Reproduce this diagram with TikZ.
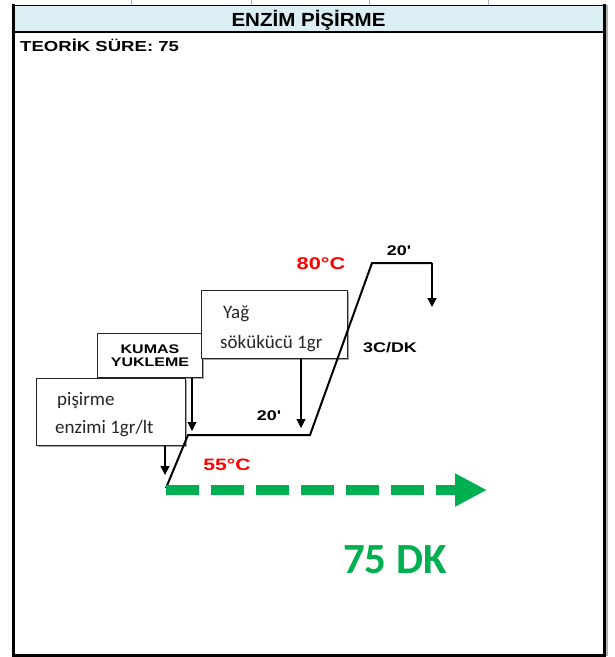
\documentclass[tikz,border=0pt]{standalone}
\usepackage{fontspec}
\setmainfont{Liberation Sans}
\newfontfamily\arialw[FakeStretch=1.28]{Liberation Sans}
\newfontfamily\arialh[FakeStretch=1.08]{Liberation Sans}
\newfontfamily\calib{Carlito}
\usetikzlibrary{arrows.meta,shadows}
\definecolor{hdrblue}{HTML}{DAEEF3}
\definecolor{xlgreen}{HTML}{00B050}
\definecolor{xlred}{HTML}{FF0000}
\tikzset{
  box/.style={draw=black!85, line width=1.3, fill=white, inner sep=0, anchor=north west,
    drop shadow={shadow xshift=1.8pt, shadow yshift=-1.8pt, fill=gray!70, opacity=1}},
  lbl/.style={inner sep=0, anchor=base, font=\arialw\bfseries},
  ctext/.style={inner sep=0, anchor=base west, text=black!85, font=\calib\fontsize{19}{19}\selectfont},
  arr/.style={line width=1.1, -{Triangle[length=9pt,width=9pt]}},
  prof/.style={line width=2, line join=miter},
  gline/.style={xlgreen, line width=10, dash pattern=on 33pt off 12pt, -{Triangle[length=32pt,width=31pt]}}
}
\begin{document}
\begin{tikzpicture}[x=1pt,y=-1pt]
\useasboundingbox (0,0) rectangle (615,657);
% faint grid ticks above frame
\foreach \gx in {131,251,369,488} \draw[gray!60, line width=0.8] (\gx,0) -- (\gx,5);
% header band and frame
\fill[hdrblue] (13,5) rectangle (604,32);
\draw[line width=1] (13,5) -- (604,5);
\draw[line width=2.5] (13,32) -- (604,32);
\draw[gray!60, line width=1.5] (607,5) -- (607,656);
\draw[line width=3] (13,4) -- (13,655) -- (604,655) -- (604,4);
\node[inner sep=0, anchor=base] (title) at (308.5,26) {\arialh\bfseries\fontsize{19}{19}\selectfont ENZİM PİŞİRME};
\node[inner sep=0, anchor=base west] (teo) at (20,51) {\arialw\bfseries\fontsize{14.5}{14.5}\selectfont TEORİK SÜRE: 75};

% boxes
\node[box, minimum width=105, minimum height=44] (kum) at (97,333) {};
\node[box, minimum width=146, minimum height=68] (yag) at (201,290) {};
\node[box, minimum width=149, minimum height=67] (enz) at (36,378) {};

\node[lbl, align=center, font=\arialw\bfseries\fontsize{12.5}{13}\selectfont] (kumt) at (150,366) {KUMAS\\YUKLEME};
\node[ctext] (yagt1) at (223,318) {Yağ};
\node[ctext] (yagt2) at (220,348) {sökükücü 1gr};
\node[ctext] (enzt1) at (57,405) {pişirme};
\node[ctext] (enzt2) at (55,433) {enzimi 1gr/lt};

% down arrows from boxes
\coordinate (tA) at (165,475);
\coordinate (tB) at (192,431);
\coordinate (tC) at (301,428);
\draw[arr] (enz.south -| tA) -- (tA);
\draw[arr] (kum.south -| tB) -- (tB);
\draw[arr] (yag.south -| tC) -- (tC);

% temperature profile
\coordinate (p0) at (166,488);
\coordinate (p1) at (188,435);
\coordinate (p2) at (310,435);
\coordinate (p3) at (372,263);
\coordinate (p4) at (432,263);
\coordinate (p5) at (432,307);
\draw[prof] (p0) -- (p1) -- (p2) -- (p3) -- (p4);
\draw[arr, line width=1.5] (p4) -- (p5);

% green time arrow
\coordinate (g0) at (166,490);
\coordinate (g1) at (487,490);
\draw[gline] (g0) -- (g1);

% labels
\node[lbl, text=xlred] (t80) at (321,269) {\fontsize{17}{17}\selectfont 80°C};
\node[lbl] (d20a) at (399,255) {\fontsize{14}{14}\selectfont 20'};
\node[lbl] (rate) at (390,352) {\fontsize{14}{14}\selectfont 3C/DK};
\node[lbl] (d20b) at (269,420) {\fontsize{14}{14}\selectfont 20'};
\node[lbl, text=xlred] (t55) at (227,470) {\fontsize{16.5}{16.5}\selectfont 55°C};
\node[inner sep=0, anchor=base, text=xlgreen] (tot) at (395,573) {\calib\bfseries\fontsize{43}{43}\selectfont 75 DK};
\end{tikzpicture}
\end{document}
